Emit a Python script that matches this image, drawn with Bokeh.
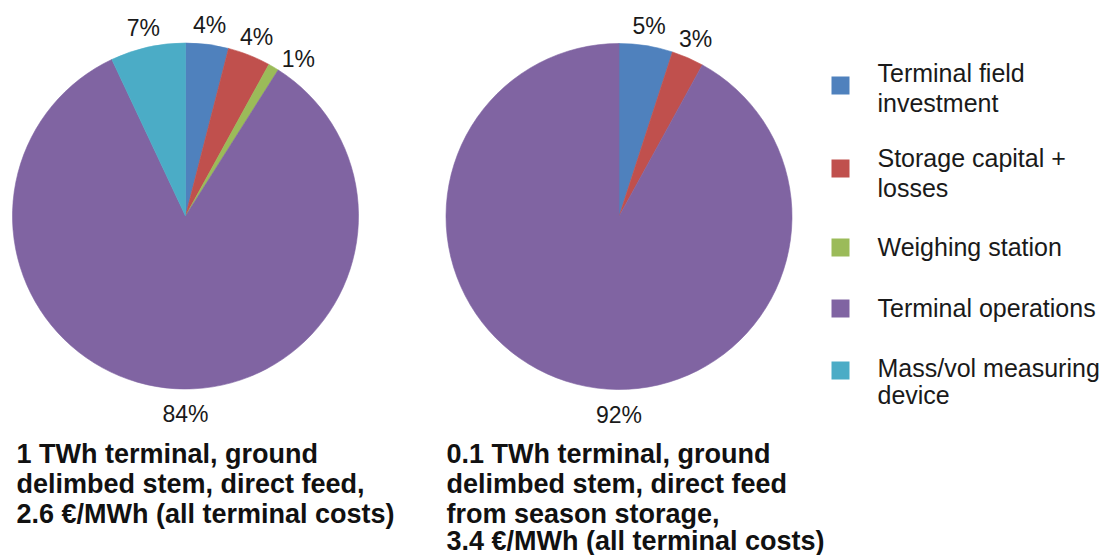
import math
from bokeh.plotting import figure
from bokeh.models import Range1d, ColumnDataSource
from bokeh.core.properties import value
from bokeh.embed import file_html
from bokeh.resources import INLINE

# ---------------- data ----------------
categories = ["Terminal field investment", "Storage capital + losses",
              "Weighing station", "Terminal operations", "Mass/vol measuring device"]
legend_lines = [["Terminal field", "investment"],
                ["Storage capital +", "losses"],
                ["Weighing station"],
                ["Terminal operations"],
                ["Mass/vol measuring", "device"]]
colors = ["#4F81BD", "#C0504D", "#9BBB59", "#8064A2", "#4BACC6"]
share_1twh = [4, 4, 1, 84, 7]      # percent
share_01twh = [5, 3, 0, 92, 0]     # percent
caption_1twh = ["1 TWh terminal, ground",
                "delimbed stem, direct feed,",
                "2.6 \u20ac/MWh (all terminal costs)"]
caption_01twh = ["0.1 TWh terminal, ground",
                 "delimbed stem, direct feed",
                 "from season storage,",
                 "3.4 \u20ac/MWh (all terminal costs)"]

# ---------------- layout helpers ----------------
W, H = 1119, 555
FONT = "Liberation Sans"
TXT = "#1a1a1a"


def fx(page_x):
    return page_x


def fy(page_y):
    return H - page_y


p = figure(width=W, height=H, x_range=Range1d(0, W), y_range=Range1d(0, H),
           output_backend="svg", toolbar_location=None, min_border=0,
           x_axis_location=None, y_axis_location=None)
p.grid.visible = False
p.outline_line_color = None
p.background_fill_color = "white"
p.border_fill_color = "white"

R = 173
MIN_SEP = 46


def draw_pie(cx, cy, shares):
    total = float(sum(shares))
    w = dict(x=[], y=[], start=[], end=[], color=[])
    lab = dict(x=[], y=[], text=[])
    cum = 0.0
    prev = None
    for share, col in zip(shares, colors):
        if share <= 0:
            continue
        a0 = cum / total
        a1 = (cum + share) / total
        cum += share
        w["x"].append(cx)
        w["y"].append(cy)
        w["start"].append(math.pi / 2 - 2 * math.pi * a1)
        w["end"].append(math.pi / 2 - 2 * math.pi * a0)
        w["color"].append(col)
        if share / total >= 0.5:
            theta, rr = math.pi, R + 25
        else:
            theta, rr = 2 * math.pi * (a0 + a1) / 2, R + 20
        lxp = cx + rr * math.sin(theta)
        lyp = cy + rr * math.cos(theta)
        # simple de-overlap: push a label clockwise away from the previous one
        if prev is not None and share / total < 0.5:
            while math.hypot(lxp - prev[0], lyp - prev[1]) < MIN_SEP:
                theta += 0.01
                lxp = cx + rr * math.sin(theta)
                lyp = cy + rr * math.cos(theta)
        prev = (lxp, lyp)
        lab["x"].append(lxp)
        lab["y"].append(lyp)
        lab["text"].append(f"{round(share / total * 100)}%")
    src = ColumnDataSource(w)
    p.wedge(x="x", y="y", radius=R, start_angle="start", end_angle="end",
            fill_color="color", line_color="color", line_width=0.6, source=src)
    p.text(x="x", y="y", text="text", source=ColumnDataSource(lab),
           text_font=value(FONT), text_font_size="23px", text_color=TXT,
           text_align="center", text_baseline="middle")


draw_pie(fx(185), fy(215.5), share_1twh)
draw_pie(fx(618.5), fy(216), share_01twh)

# ---------------- captions ----------------
cap_left_mid = [453, 483, 513]
cap_right_mid = [453, 483, 513, 540]
p.text(x=[fx(16)] * len(caption_1twh), y=[fy(b) for b in cap_left_mid],
       text=caption_1twh, text_font=value(FONT), text_font_size="27px",
       text_font_style="bold", text_color="#111111",
       text_align="left", text_baseline="middle")
p.text(x=[fx(446)] * len(caption_01twh), y=[fy(b) for b in cap_right_mid],
       text=caption_01twh, text_font=value(FONT), text_font_size="27px",
       text_font_style="bold", text_color="#111111",
       text_align="left", text_baseline="middle")

# ---------------- legend ----------------
square_y = [85, 168, 247, 308, 370]
text_mid = [[72, 102], [157, 187], [246], [307], [367, 394]]
p.rect(x=[fx(840)] * len(colors), y=[fy(v) for v in square_y],
       width=18, height=18, fill_color=colors, line_color=None)
lx, ly, lt = [], [], []
for lines, mids in zip(legend_lines, text_mid):
    for t, b in zip(lines, mids):
        lx.append(fx(877))
        ly.append(fy(b))
        lt.append(t)
p.text(x=lx, y=ly, text=lt, text_font=value(FONT), text_font_size="25px",
       text_color=TXT, text_align="left", text_baseline="middle")

open("out.html", "w").write(file_html(p, INLINE))
